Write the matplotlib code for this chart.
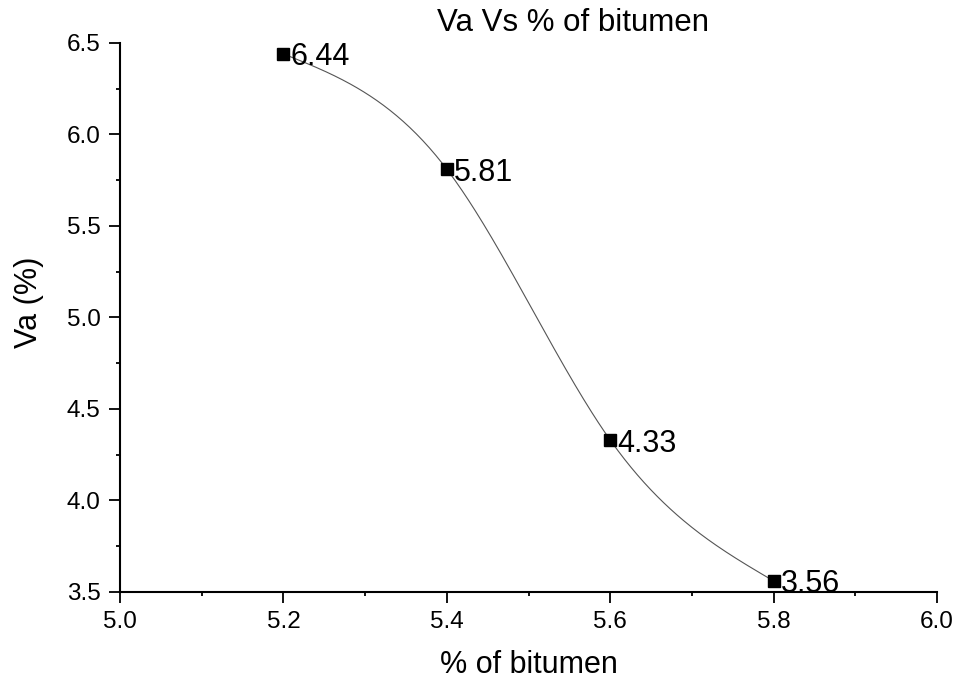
import numpy as np
import matplotlib.pyplot as plt
from matplotlib.ticker import MultipleLocator, AutoMinorLocator

plt.rcParams['font.family'] = ['Liberation Sans', 'DejaVu Sans']

# Air voids against bitumen content
bitumen = [5.2, 5.4, 5.6, 5.8]
va = [6.44, 5.81, 4.33, 3.56]
va_labels = ['6.44', '5.81', '4.33', '3.56']


def natural_spline(x, y, n=300):
    # natural cubic spline through the measured points, for the smooth connecting line
    x = np.asarray(x, float)
    y = np.asarray(y, float)
    k = len(x)
    h = np.diff(x)
    A = np.zeros((k, k))
    b = np.zeros(k)
    A[0, 0] = A[-1, -1] = 1.0
    for i in range(1, k - 1):
        A[i, i - 1] = h[i - 1]
        A[i, i] = 2 * (h[i - 1] + h[i])
        A[i, i + 1] = h[i]
        b[i] = 6 * ((y[i + 1] - y[i]) / h[i] - (y[i] - y[i - 1]) / h[i - 1])
    M = np.linalg.solve(A, b)
    xs = np.linspace(x[0], x[-1], n)
    idx = np.clip(np.searchsorted(x, xs) - 1, 0, k - 2)
    x0, x1 = x[idx], x[idx + 1]
    hh = x1 - x0
    t0, t1 = x1 - xs, xs - x0
    ys = (M[idx] * t0 ** 3 + M[idx + 1] * t1 ** 3) / (6 * hh) \
        + (y[idx] / hh - M[idx] * hh / 6) * t0 \
        + (y[idx + 1] / hh - M[idx + 1] * hh / 6) * t1
    return xs, ys


fig = plt.figure(figsize=(9.61, 6.85), dpi=100)
ax = fig.add_axes([0.1249, 0.1358, 0.8502, 0.8015])

xs, ys = natural_spline(bitumen, va)
ax.plot(xs, ys, color='#555555', lw=0.8, zorder=2)
ax.plot(bitumen, va, ls='none', marker='s', ms=8, color='black', zorder=3)

for x, y, txt in zip(bitumen, va, va_labels):
    ax.annotate(txt, (x, y), xytext=(5, 0), textcoords='offset points',
                ha='left', va='center_baseline', fontsize=22, zorder=4)

ax.set_xlim(5.0, 6.0)
ax.set_ylim(3.5, 6.5)
ax.xaxis.set_major_locator(MultipleLocator(0.2))
ax.yaxis.set_major_locator(MultipleLocator(0.5))
ax.xaxis.set_minor_locator(AutoMinorLocator(2))
ax.yaxis.set_minor_locator(AutoMinorLocator(2))

ax.spines['top'].set_visible(False)
ax.spines['right'].set_visible(False)
for s in ('left', 'bottom'):
    ax.spines[s].set_linewidth(1.5)

ax.tick_params(which='major', direction='out', length=8, width=1.3,
               labelsize=17.5, pad=6)
ax.tick_params(which='minor', direction='out', length=3, width=1.3)
ax.set_xticklabels([f'{v:.1f}' for v in ax.get_xticks()])
ax.set_yticklabels([f'{v:.1f}' for v in ax.get_yticks()])

ax.set_xlabel('% of bitumen', fontsize=22, va='baseline')
ax.xaxis.set_label_coords(0.5, -0.1475)
ax.set_ylabel('Va (%)', fontsize=22, va='center')
ax.yaxis.set_label_coords(-0.111, 0.528)

fig.text(0.596, 0.955, 'Va Vs % of bitumen', fontsize=22.5,
         ha='center', va='baseline')

fig.savefig('out.png', dpi=100)
